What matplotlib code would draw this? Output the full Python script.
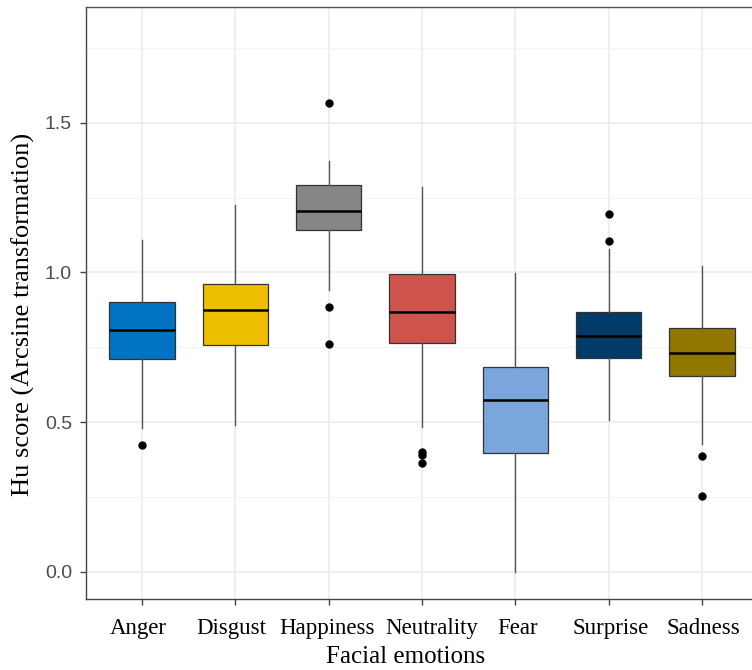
"""
Boxplot of Hu scores by facial emotion (ggplot theme_bw look)
"""
import matplotlib
from matplotlib import pyplot as plt
from matplotlib import transforms as mtrans

matplotlib.use("Agg")

# data
emotions = ["Anger", "Disgust", "Happiness", "Neutrality", "Fear", "Surprise", "Sadness"]
medians = [0.808, 0.876, 1.206, 0.868, 0.573, 0.788, 0.730]
q1 = [0.710, 0.756, 1.141, 0.763, 0.397, 0.714, 0.655]
q3 = [0.902, 0.962, 1.293, 0.994, 0.684, 0.868, 0.816]
whisk_lo = [0.481, 0.491, 0.943, 0.484, 0.000, 0.507, 0.427]
whisk_hi = [1.108, 1.225, 1.373, 1.286, 0.997, 1.080, 1.022]
outliers = [
    [0.424],
    [],
    [1.567, 0.885, 0.760],
    [0.401, 0.389, 0.362],
    [],
    [1.195, 1.105],
    [0.387, 0.252],
]
colors = ["#0073C2", "#EFC000", "#868686", "#CD534C", "#7AA6DC", "#003C67", "#8F7700"]

y_ticks = [0.0, 0.5, 1.0, 1.5]
y_minor = [0.25, 0.75, 1.25, 1.75]

# small horizontal nudges (pixels) of the x tick labels, as laid out in the reference
label_nudge = [-4, -4, -2, 10, 2, 2, 1]

W, H = 752, 670
fig = plt.figure(figsize=(W / 100, H / 100), dpi=100, facecolor="white")
# panel runs past the right edge of the picture, as in the reference
ax = fig.add_axes([86 / W, 1 - 599 / H, (758 - 86) / W, (599 - 7) / H])

stats = []
for i, name in enumerate(emotions):
    stats.append(
        {
            "label": name,
            "med": medians[i],
            "q1": q1[i],
            "q3": q3[i],
            "whislo": whisk_lo[i],
            "whishi": whisk_hi[i],
            "fliers": outliers[i],
        }
    )

positions = list(range(1, len(emotions) + 1))
res = ax.bxp(
    stats,
    positions=positions,
    widths=0.7,
    patch_artist=True,
    showcaps=False,
    boxprops=dict(edgecolor="#333333", linewidth=0.9),
    whiskerprops=dict(color="#555555", linewidth=1.0),
    medianprops=dict(color="black", linewidth=1.8, solid_capstyle="butt"),
    flierprops=dict(marker="o", markerfacecolor="black", markeredgecolor="black", markersize=5),
    zorder=3,
)
for patch, col in zip(res["boxes"], colors):
    patch.set_facecolor(col)

# axes limits / grid
ax.set_xlim(0.4, len(emotions) + 0.6)
ax.set_ylim(-0.091, 1.887)
ax.set_yticks(y_ticks)
ax.set_yticklabels([f"{v:.1f}" for v in y_ticks])
ax.set_yticks(y_minor, minor=True)
ax.set_xticks(positions)
ax.set_xticklabels(emotions)

ax.grid(True, which="major", color="#EBEBEB", linewidth=1.1, zorder=0)
ax.grid(True, which="minor", axis="y", color="#F3F3F3", linewidth=0.8, zorder=0)
ax.set_axisbelow(True)

for side in ["top", "right", "left", "bottom"]:
    ax.spines[side].set_color("#555555")
    ax.spines[side].set_linewidth(1.0)
ax.spines["left"].set_color("#444444")
ax.spines["bottom"].set_color("#444444")

ax.tick_params(axis="both", which="major", length=4, width=1.0, color="#444444")
ax.tick_params(axis="y", which="minor", length=0)
ax.tick_params(axis="y", labelsize=14, labelcolor="#4D4D4D", pad=6)
ax.tick_params(axis="x", labelsize=16.5, labelcolor="black", pad=10)
for lab in ax.get_yticklabels():
    lab.set_fontfamily("Liberation Sans")
for lab, dx in zip(ax.get_xticklabels(), label_nudge):
    lab.set_fontfamily("Liberation Serif")
    lab.set_transform(lab.get_transform() + mtrans.Affine2D().translate(dx, 0))

# axis titles placed in figure pixels
fig.text(406 / W, 1 - 663 / H, "Facial emotions", fontsize=18, family="Liberation Serif",
         color="black", ha="center", va="baseline")
fig.text(23 / W, 1 - 314 / H, "Hu score (Arcsine transformation)", fontsize=19,
         family="Liberation Serif", color="black", ha="center", va="center", rotation=90)

fig.savefig("out.png", dpi=100, facecolor="white")
